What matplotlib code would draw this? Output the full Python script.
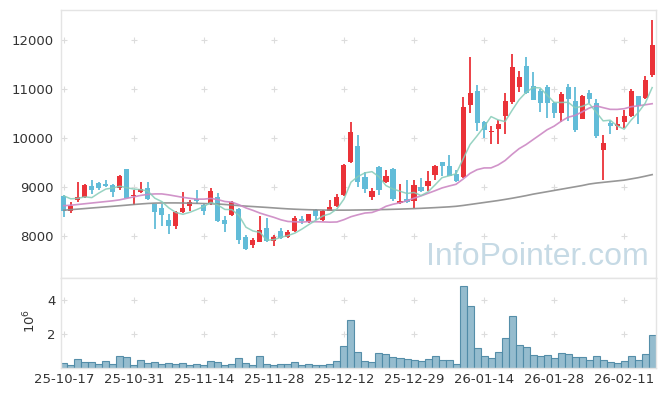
import matplotlib
matplotlib.use("Agg")
import matplotlib.pyplot as plt
import numpy as np
import pandas as pd

# ---- data ----
holidays = ["2025-12-25", "2025-12-31", "2026-01-01", "2026-02-16", "2026-02-17", "2026-02-18"]
dates = [d for d in pd.bdate_range("2025-10-17", "2026-02-20") if d.strftime("%Y-%m-%d") not in holidays]

opens = [8825, 8508, 8744, 8791, 9028, 9075, 9068, 9048, 8980, 9372,
         8812, 8893, 8987, 8663, 8575, 8325, 8217, 8501, 8609, 8764,
         8636, 8677, 8805, 8339, 8427, 8555, 7988, 7812, 7886, 8170,
         7900, 8096, 7988, 8102, 8359, 8285, 8542, 8325, 8521, 8609,
         8845, 9500, 9825, 9203, 8798, 9406, 9095, 9372, 8677, 8764,
         8711, 9001, 9015, 9251, 9508, 9433, 9265, 9204, 10663, 10953,
         10332, 10115, 10176, 10453, 10737, 11041, 11459, 11054, 10960, 11027,
         10703, 10514, 11027, 10757, 10393, 10906, 10703, 9744, 10298, 10244,
         10332, 10447, 10852, 10804, 11277]
highs = [8832, 8690, 9102, 9061, 9142, 9109, 9149, 9055, 9251, 9372,
         8933, 9102, 9102, 8663, 8663, 8460, 8521, 8893, 8744, 8947,
         8650, 8980, 8879, 8420, 8710, 8575, 8028, 7967, 8407, 8373,
         8015, 8170, 8116, 8407, 8407, 8460, 8555, 8528, 8744, 8859,
         9460, 10324, 10061, 9298, 8980, 9419, 9338, 9386, 9062, 9149,
         9149, 9183, 9319, 9440, 9515, 9656, 9352, 10825, 11635, 11074,
         10340, 10244, 10365, 10919, 11696, 11365, 11648, 11331, 10987, 11075,
         10737, 10940, 11095, 11027, 10872, 10973, 10784, 10055, 10345, 10420,
         10568, 10987, 10860, 11264, 12405]
lows = [8386, 8474, 8697, 8771, 8866, 8933, 8994, 8798, 8933, 8778,
        8643, 8879, 8744, 8150, 8217, 8035, 8150, 8474, 8508, 8663,
        8440, 8643, 8292, 8082, 8420, 7832, 7718, 7765, 7880, 7886,
        7799, 7947, 7968, 8089, 8258, 8278, 8339, 8318, 8508, 8596,
        8825, 9487, 9001, 8879, 8744, 8845, 9082, 8710, 8663, 8677,
        8575, 8893, 8913, 9150, 9217, 9220, 9096, 9184, 10514, 10149,
        9994, 9879, 9879, 10082, 10689, 10939, 10895, 10760, 10534, 10399,
        10399, 10332, 10352, 10109, 10379, 10717, 9994, 9150, 10082, 10163,
        10197, 10433, 10278, 10784, 11243]
closes = [8508, 8623, 8798, 9048, 8947, 8974, 9028, 8906, 9230, 8785,
          8845, 8967, 8764, 8501, 8440, 8204, 8501, 8582, 8704, 8724,
          8508, 8926, 8305, 8258, 8704, 7920, 7731, 7920, 8116, 7900,
          7988, 7968, 8089, 8373, 8305, 8454, 8407, 8521, 8589, 8805,
          9453, 10128, 9095, 8960, 8926, 8933, 9230, 8758, 8724, 8697,
          9041, 8913, 9130, 9433, 9433, 9231, 9116, 10622, 10919, 10311,
          10163, 10149, 10284, 10750, 11446, 11243, 10906, 10770, 10716, 10717,
          10501, 10892, 10791, 10163, 10852, 10791, 10028, 9893, 10231, 10284,
          10447, 10953, 10649, 11176, 11885]
volumes = [0.25, 0.14, 0.49, 0.31, 0.31, 0.20, 0.37, 0.20, 0.67, 0.61,
           0.14, 0.43, 0.25, 0.31, 0.20, 0.25, 0.20, 0.25, 0.14, 0.20,
           0.14, 0.37, 0.31, 0.14, 0.20, 0.55, 0.25, 0.14, 0.67, 0.20,
           0.14, 0.20, 0.20, 0.31, 0.14, 0.20, 0.14, 0.14, 0.20, 0.38,
           1.31, 2.84, 0.90, 0.39, 0.31, 0.84, 0.78, 0.61, 0.55, 0.49,
           0.43, 0.39, 0.49, 0.67, 0.43, 0.43, 0.20, 4.80, 3.67, 1.14,
           0.67, 0.55, 0.90, 1.73, 3.08, 1.37, 1.25, 0.73, 0.67, 0.73,
           0.55, 0.84, 0.78, 0.61, 0.61, 0.43, 0.67, 0.43, 0.31, 0.25,
           0.37, 0.67, 0.43, 0.78, 1.96]
# moving-average values before enough in-window history exists
ma5_head = [8820, 8760, 8770, 8800]
ma20_head = [8620, 8630, 8645, 8660, 8675, 8690, 8705, 8720, 8740, 8770,
             8800, 8830, 8850, 8860, 8860, 8840, 8815, 8790, 8770]
ma_long = [8528, 8540, 8551, 8562, 8574, 8585, 8597, 8608, 8620, 8632,
           8645, 8656, 8666, 8673, 8676, 8677, 8677, 8675, 8672, 8668,
           8664, 8660, 8655, 8645, 8634, 8622, 8612, 8603, 8594, 8585,
           8575, 8565, 8556, 8549, 8543, 8538, 8535, 8532, 8530, 8530,
           8530, 8531, 8533, 8535, 8537, 8540, 8543, 8547, 8551, 8556,
           8561, 8567, 8574, 8581, 8589, 8597, 8608, 8625, 8645, 8665,
           8685, 8705, 8725, 8748, 8772, 8798, 8825, 8855, 8880, 8905,
           8930, 8955, 8980, 9005, 9030, 9060, 9080, 9095, 9110, 9125,
           9140, 9165, 9190, 9220, 9252]
price_ticks = [8000, 9000, 10000, 11000, 12000]
vol_ticks = [2, 4]

# ---- derived ----
n = len(closes)
x = np.arange(n)
cs = pd.Series(closes, dtype=float)
ma5 = cs.rolling(5).mean().values
ma5[:4] = ma5_head
ma20 = cs.rolling(20).mean().values
ma20[:19] = ma20_head

RED = "#ea3238"
BLUE = "#62bcd8"
SPINE = "#e4e4e4"
TXT = "#333333"

fig = plt.figure(figsize=(6.65, 3.96), dpi=100)
ax = fig.add_axes([61/665, 1-278/396, (656-61)/665, (278-10)/396])
axv = fig.add_axes([61/665, 1-367.7/396, (656-61)/665, (367.7-278)/396], sharex=ax)

tick_idx = list(range(0, n, 10))

# grid plus markers
for a, yt in ((ax, price_ticks), (axv, vol_ticks)):
    gx, gy = np.meshgrid(tick_idx, yt)
    a.scatter(gx.ravel(), gy.ravel(), marker="+", s=14, color="#dcdcdc", linewidths=0.8, zorder=0)

# candles
o = np.array(opens); c = np.array(closes); h = np.array(highs); l = np.array(lows)
up = c >= o
cols = np.where(up, RED, BLUE)
ax.vlines(x, l, h, colors=cols, linewidth=1.3, zorder=2)
body_low = np.minimum(o, c)
body_h = np.maximum(np.abs(c - o), 12)
ax.bar(x, body_h, bottom=body_low, width=0.72, color=cols, linewidth=0, zorder=3)

# moving averages
ax.plot(x, ma_long, color="#8c8c8c", linewidth=1.2, alpha=0.9, zorder=4)
ax.plot(x, ma20, color="#cc88c4", linewidth=1.2, alpha=0.9, zorder=4)
ax.plot(x, ma5, color="#86ccb8", linewidth=1.1, alpha=0.85, zorder=4)

ax.text(0.987, 0.08, "InfoPointer.com", transform=ax.transAxes, ha="right", va="center",
        fontsize=23, color="#c6dae5", family="Liberation Sans", zorder=1)

ax.set_ylim(7150, 12600)
ax.set_yticks(price_ticks)
ax.set_yticklabels([str(t) for t in price_ticks])
ax.set_xlim(-0.4, n - 0.45)
ax.tick_params(axis="x", which="both", bottom=False, labelbottom=False, length=0)
ax.tick_params(axis="y", length=0, labelsize=9.5, labelcolor=TXT, pad=5)

# volume
axv.bar(x, volumes, width=1.0, color="#8fb9cc", edgecolor="#4f8aa6", linewidth=0.8, alpha=0.95, zorder=2)
axv.set_ylim(0, 5.3)
axv.set_yticks(vol_ticks)
axv.set_yticklabels([str(t) for t in vol_ticks])
axv.set_xticks(tick_idx)
axv.set_xticklabels([dates[i].strftime("%y-%m-%d") for i in tick_idx])
axv.tick_params(axis="both", length=0, labelsize=9.5, labelcolor=TXT, pad=4)
fig.text(30/665, 1-321/396, "$10^6$", rotation=90, ha="center", va="center", fontsize=9.5, color=TXT)

for a in (ax, axv):
    for s in a.spines.values():
        s.set_color(SPINE)
        s.set_linewidth(1.0)
    a.set_facecolor("white")

fig.savefig("out.png", dpi=100, facecolor="white")
